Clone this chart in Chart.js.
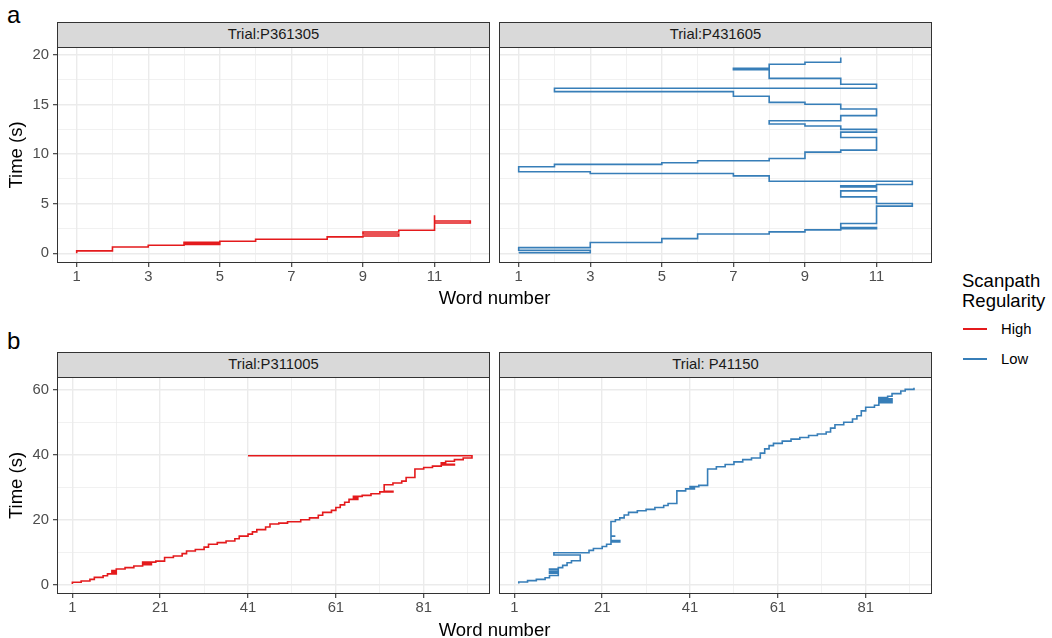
<!DOCTYPE html>
<html>
<head>
<meta charset="utf-8">
<script src="https://cdn.jsdelivr.net/npm/chart.js@4.4.0/dist/chart.umd.min.js"></script>
<style>
body { margin: 0; background: #fff; font-family: 'Liberation Sans', Arial, sans-serif; }
#page { position: relative; width: 1052px; height: 638px; overflow: hidden; background: #fff; }
.box { position: absolute; }
.strip { position: absolute; background: #d9d9d9; border: 1px solid #333; box-sizing: border-box;
         font-size: 14.8px; color: #1a1a1a; text-align: center; line-height: 23px; }
.txt { position: absolute; color: #000; white-space: nowrap; }
.key { position: absolute; height: 2px; }
</style>
</head>
<body>
<div id="page"></div>
<script>
// facet titles and legend
const panelNamesA = ['Trial:P361305', 'Trial:P431605'];
const panelNamesB = ['Trial:P311005', 'Trial: P41150'];
const seriesNames = ['High', 'Low'];
const seriesColors = ['#e41a1c', '#377eb8'];

// scanpaths: word number and time (s) of each step
const wordsA1 = [1, 1, 2, 3, 4, 5, 4, 5, 6, 8, 9, 10, 9, 10, 11, 11, 12, 11];
const timeA1 = [0.0, 0.24, 0.64, 0.81, 0.9, 1.0, 1.1, 1.21, 1.41, 1.65, 1.75, 1.95, 2.15, 2.32, 3.84, 3.05, 3.25, 3.25];

const wordsA2 = [1, 3, 1, 3, 5, 6, 8, 9, 10, 11, 10, 11, 12, 11, 10, 11, 10, 11, 12, 8, 7, 3, 1, 2, 5, 6, 8, 9,
  10, 11, 10, 11, 10, 9, 8, 10, 11, 10, 9, 8, 7, 2, 11, 10, 8, 7, 8, 9, 10];
const timeA2 = [0.07, 0.3, 0.57, 1.08, 1.48, 1.95, 2.16, 2.36, 2.49, 2.6, 3.0, 4.75, 5.02, 5.69, 6.29, 6.7, 6.8, 6.94,
  7.27, 7.81, 8.05, 8.22, 8.72, 8.96, 9.13, 9.33, 9.56, 10.2, 10.4, 11.68, 12.22, 12.49, 12.83, 13.03, 13.36, 13.88,
  14.55, 15.02, 15.22, 15.83, 16.3, 16.64, 17.04, 17.64, 18.5, 18.65, 19.06, 19.26, 19.73];

const wordsB1 = [1, 1, 3, 5, 6, 8, 9, 11, 10, 11, 13, 15, 17, 19, 17, 20, 22, 24, 26, 27, 29, 31, 32, 34, 36, 38, 39,
  41, 42, 43, 45, 46, 48, 50, 53, 55, 57, 58, 60, 61, 62, 63, 64, 66, 65, 67, 69, 71, 74, 72, 74, 76, 77, 79, 81,
  83, 85, 88, 85, 86, 88, 90, 92, 41];
const timeB1 = [0.3, 0.8, 1.2, 1.7, 2.3, 2.8, 3.4, 3.9, 4.4, 4.9, 5.3, 5.8, 6.2, 6.7, 7.0, 7.3, 8.4, 8.9, 9.6, 10.4,
  10.9, 11.6, 12.5, 13.0, 13.5, 14.2, 15.0, 15.6, 16.3, 17.0, 17.8, 18.7, 19.0, 19.4, 20.0, 20.6, 21.4, 22.3, 22.9,
  23.8, 24.6, 25.4, 26.3, 26.8, 27.2, 27.5, 28.0, 28.6, 28.8, 30.8, 31.3, 31.9, 33.0, 35.6, 36.1, 36.5, 36.9, 37.1,
  37.5, 38.0, 38.5, 39.0, 39.7, 39.7];

const wordsB2 = [2, 2, 4, 6, 8, 9, 11, 9, 11, 9, 11, 12, 13, 14, 16, 10, 18, 19, 21, 22, 23, 25, 23, 24, 23, 24, 25,
  26, 27, 29, 31, 33, 35, 36, 38, 38, 40, 42, 41, 43, 45, 45, 47, 49, 51, 53, 55, 57, 58, 59, 60, 62, 64, 66, 68,
  70, 72, 73, 74, 76, 78, 79, 80, 81, 83, 84, 87, 84, 87, 84, 86, 87, 89, 90, 92];
const timeB2 = [0.4, 0.9, 1.3, 1.7, 2.2, 2.9, 3.6, 4.0, 4.6, 4.9, 5.3, 6.0, 6.8, 7.4, 9.2, 9.9, 10.6, 11.2, 11.8,
  12.5, 13.2, 13.6, 15.0, 15.0, 19.5, 20.0, 20.6, 21.5, 22.3, 22.8, 23.2, 23.8, 24.4, 25.0, 25.8, 28.9, 29.5, 30.0,
  30.2, 30.6, 31.2, 35.6, 36.3, 37.0, 37.8, 38.5, 39.0, 40.5, 41.8, 42.8, 43.5, 44.2, 44.8, 45.3, 45.9, 46.4, 47.0,
  48.2, 49.2, 50.0, 51.0, 52.0, 53.5, 54.6, 55.2, 56.0, 56.4, 56.8, 57.2, 57.6, 58.0, 58.8, 59.6, 60.1, 60.6];

// axis ticks (all grid lines) and the ones that get a label
const xTicksA = [1, 2, 3, 4, 5, 6, 7, 8, 9, 10, 11, 12];
const xLabelsA = [1, 3, 5, 7, 9, 11];
const yTicksA = [0, 2.5, 5, 7.5, 10, 12.5, 15, 17.5, 20];
const yLabelsA = [0, 5, 10, 15, 20];
const xTicksB = [1, 11, 21, 31, 41, 51, 61, 71, 81, 91];
const xLabelsB = [1, 21, 41, 61, 81];
const yTicksB = [0, 10, 20, 30, 40, 50, 60];
const yLabelsB = [0, 20, 40, 60];

const page = document.getElementById('page');

const rows = {
    a: { top: 47, height: 216, xMin: 0.45, xMax: 12.55, yMin: -0.98, yMax: 20.8,
         xTicks: xTicksA, xLabels: xLabelsA, yTicks: yTicksA, yLabels: yLabelsA },
    b: { top: 377, height: 217, xMin: -2.5, xMax: 96.1, yMin: -2.8, yMax: 63.9,
         xTicks: xTicksB, xLabels: xLabelsB, yTicks: yTicksB, yLabels: yLabelsB }
};
const cols = [{ left: 57, width: 433 }, { left: 499, width: 433 }];

const panels = [
    { name: panelNamesA[0], words: wordsA1, times: timeA1, series: 0, row: 'a', col: 0 },
    { name: panelNamesA[1], words: wordsA2, times: timeA2, series: 1, row: 'a', col: 1 },
    { name: panelNamesB[0], words: wordsB1, times: timeB1, series: 0, row: 'b', col: 0 },
    { name: panelNamesB[1], words: wordsB2, times: timeB2, series: 1, row: 'b', col: 1 }
];

const panelBorder = {
    id: 'panelBorder',
    afterDraw(chart) {
        const a = chart.chartArea, ctx = chart.ctx;
        ctx.save();
        ctx.strokeStyle = '#333';
        ctx.lineWidth = 1;
        ctx.strokeRect(a.left + 0.5, a.top + 0.5, a.right - a.left - 1, a.bottom - a.top - 1);
        ctx.restore();
    }
};

function addText(text, left, top, size, extra) {
    const d = document.createElement('div');
    d.className = 'txt';
    d.textContent = text;
    d.style.left = left + 'px';
    d.style.top = top + 'px';
    d.style.fontSize = size + 'px';
    if (extra) Object.assign(d.style, extra);
    page.appendChild(d);
    return d;
}

function gridOpts(list, major, showTicks) {
    return {
        color: '#ebebeb',
        lineWidth: c => major.includes(c.tick.value) ? 1.4 : 0.7,
        tickColor: c => major.includes(c.tick.value) ? '#333' : 'rgba(0,0,0,0)',
        tickLength: 4,
        tickWidth: 1.1,
        drawTicks: showTicks
    };
}

function makePanel(p) {
    const row = rows[p.row], col = cols[p.col];
    const first = p.col === 0;
    const yW = first ? col.left : 10;
    const padR = 12, xH = 28;

    const wrap = document.createElement('div');
    wrap.className = 'box';
    wrap.style.left = (col.left - yW) + 'px';
    wrap.style.top = row.top + 'px';
    const cv = document.createElement('canvas');
    cv.width = yW + col.width + padR;
    cv.height = row.height + xH;
    wrap.appendChild(cv);
    page.appendChild(wrap);

    const strip = document.createElement('div');
    strip.className = 'strip';
    strip.style.left = col.left + 'px';
    strip.style.top = (row.top - 25) + 'px';
    strip.style.width = col.width + 'px';
    strip.style.height = '26px';
    strip.textContent = p.name;
    page.appendChild(strip);

    new Chart(cv, {
        type: 'line',
        data: {
            datasets: [{
                label: seriesNames[p.series],
                data: p.words.map((w, i) => ({ x: w, y: p.times[i] })),
                borderColor: seriesColors[p.series],
                borderWidth: 1.6,
                pointRadius: 0,
                stepped: 'before',
                fill: false
            }]
        },
        options: {
            responsive: false,
            animation: false,
            devicePixelRatio: 1,
            layout: { padding: { left: 0, top: 0, right: padR, bottom: 0 } },
            plugins: { legend: { display: false }, tooltip: { enabled: false } },
            scales: {
                x: {
                    type: 'linear',
                    min: row.xMin,
                    max: row.xMax,
                    afterBuildTicks: s => { s.ticks = row.xTicks.map(v => ({ value: v })); },
                    afterFit: s => { s.height = xH; s.paddingLeft = 0; s.paddingRight = 0; },
                    grid: gridOpts(row.xTicks, row.xLabels, true),
                    border: { display: false },
                    ticks: {
                        autoSkip: false, maxRotation: 0, padding: 1, color: '#4d4d4d',
                        font: { size: 14.8 },
                        callback: v => row.xLabels.includes(v) ? String(v) : ''
                    }
                },
                y: {
                    type: 'linear',
                    min: row.yMin,
                    max: row.yMax,
                    afterBuildTicks: s => { s.ticks = row.yTicks.map(v => ({ value: v })); },
                    afterFit: s => { s.width = yW; s.paddingTop = 0; s.paddingBottom = 0; },
                    grid: gridOpts(row.yTicks, row.yLabels, first),
                    border: { display: false },
                    title: {
                        display: first, text: 'Time (s)', color: '#000',
                        font: { size: 18.5 }, padding: { top: 6, bottom: 0 }
                    },
                    ticks: {
                        display: first, padding: 4, color: '#4d4d4d',
                        font: { size: 14.8 },
                        callback: v => row.yLabels.includes(v) ? String(v) : ''
                    }
                }
            }
        },
        plugins: [panelBorder]
    });
}

Chart.defaults.font.family = "'Liberation Sans', Arial, sans-serif";
panels.forEach(makePanel);

// panel letters and shared x titles
addText('a', 7, 1, 24, { lineHeight: '28px' });
addText('b', 7, 327, 24, { lineHeight: '28px' });
addText('Word number', 394.5, 287, 18.5, { width: '200px', textAlign: 'center', lineHeight: '22px' });
addText('Word number', 394.5, 619, 18.5, { width: '200px', textAlign: 'center', lineHeight: '22px' });

// legend
addText('Scanpath', 962, 271, 18.5, { lineHeight: '20px' });
addText('Regularity', 962, 291, 18.5, { lineHeight: '20px' });
const keyY = [329, 359];
seriesNames.forEach((n, i) => {
    const k = document.createElement('div');
    k.className = 'key';
    k.style.left = '963px';
    k.style.top = (keyY[i] - 1) + 'px';
    k.style.width = '24px';
    k.style.background = seriesColors[i];
    page.appendChild(k);
    addText(n, 1001, keyY[i] - 9, 14.8, { lineHeight: '18px' });
});
</script>
</body>
</html>
